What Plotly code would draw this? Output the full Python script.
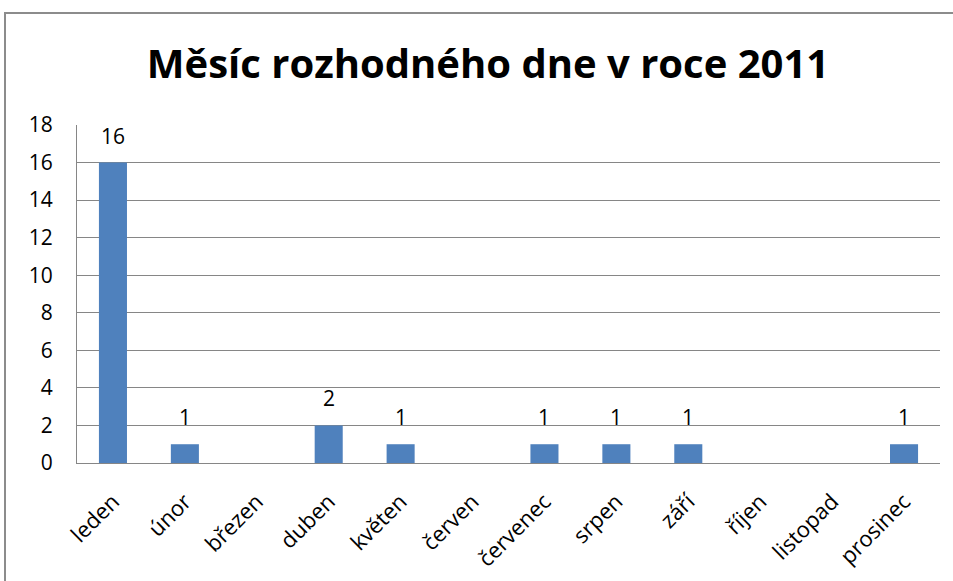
import plotly.graph_objects as go

months = ["leden", "únor", "březen", "duben", "květen", "červen",
          "červenec", "srpen", "září", "říjen", "listopad", "prosinec"]
counts = [16, 1, 0, 2, 1, 0, 1, 1, 1, 0, 0, 1]
y_ticks = [0, 2, 4, 6, 8, 10, 12, 14, 16, 18]
title = "Měsíc rozhodného dne v roce 2011"

W, H = 953, 581
ml, mr, mt, mb = 77, 13, 125, 118
pw, ph = W - ml - mr, H - mt - mb

fig = go.Figure(go.Bar(
    x=months, y=counts,
    marker=dict(color="#4F81BD", line=dict(width=0)),
    hoverinfo="x+y",
))

annotations = [
    dict(x=m, y=v, text=str(v), xref="x", yref="y", showarrow=False,
         yanchor="bottom", yshift=11,
         font=dict(family="Open Sans", size=21, color="#000000"))
    for m, v in zip(months, counts) if v
]

fig.update_layout(
    width=W, height=H,
    margin=dict(l=ml, r=mr, t=mt, b=mb, autoexpand=False),
    paper_bgcolor="white", plot_bgcolor="white",
    bargap=0.61,
    showlegend=False,
    title=dict(text="<b>" + title + "</b>", x=488 / W, xanchor="center",
               y=1 - 64 / H, yanchor="middle",
               font=dict(family="Open Sans", size=40, color="#000000")),
    font=dict(family="Open Sans", color="#000000"),
    xaxis=dict(tickangle=-45, tickfont=dict(size=22), showgrid=False,
               showline=True, linecolor="#868686", linewidth=1,
               ticks="", ticklen=0, ticklabelstandoff=16, automargin=False),
    yaxis=dict(range=[0, 18], tickvals=y_ticks, tickfont=dict(size=21),
               showgrid=True, gridcolor="#868686", gridwidth=1,
               showline=True, linecolor="#868686", linewidth=1,
               zeroline=False, ticks="", ticklabelstandoff=19, automargin=False),
    annotations=annotations,
    shapes=[dict(type="rect", xref="paper", yref="paper",
                 x0=(5 - ml) / pw, x1=(W + 20 - ml) / pw,
                 y0=-(H + 20 - (H - mb)) / ph, y1=((H - mb) - 13) / ph,
                 line=dict(color="#8C8C8C", width=2), layer="below")],
)

fig.write_html("out.html", config={"displayModeBar": False},
               post_script="document.body.style.margin='0';document.body.style.overflow='hidden';")
